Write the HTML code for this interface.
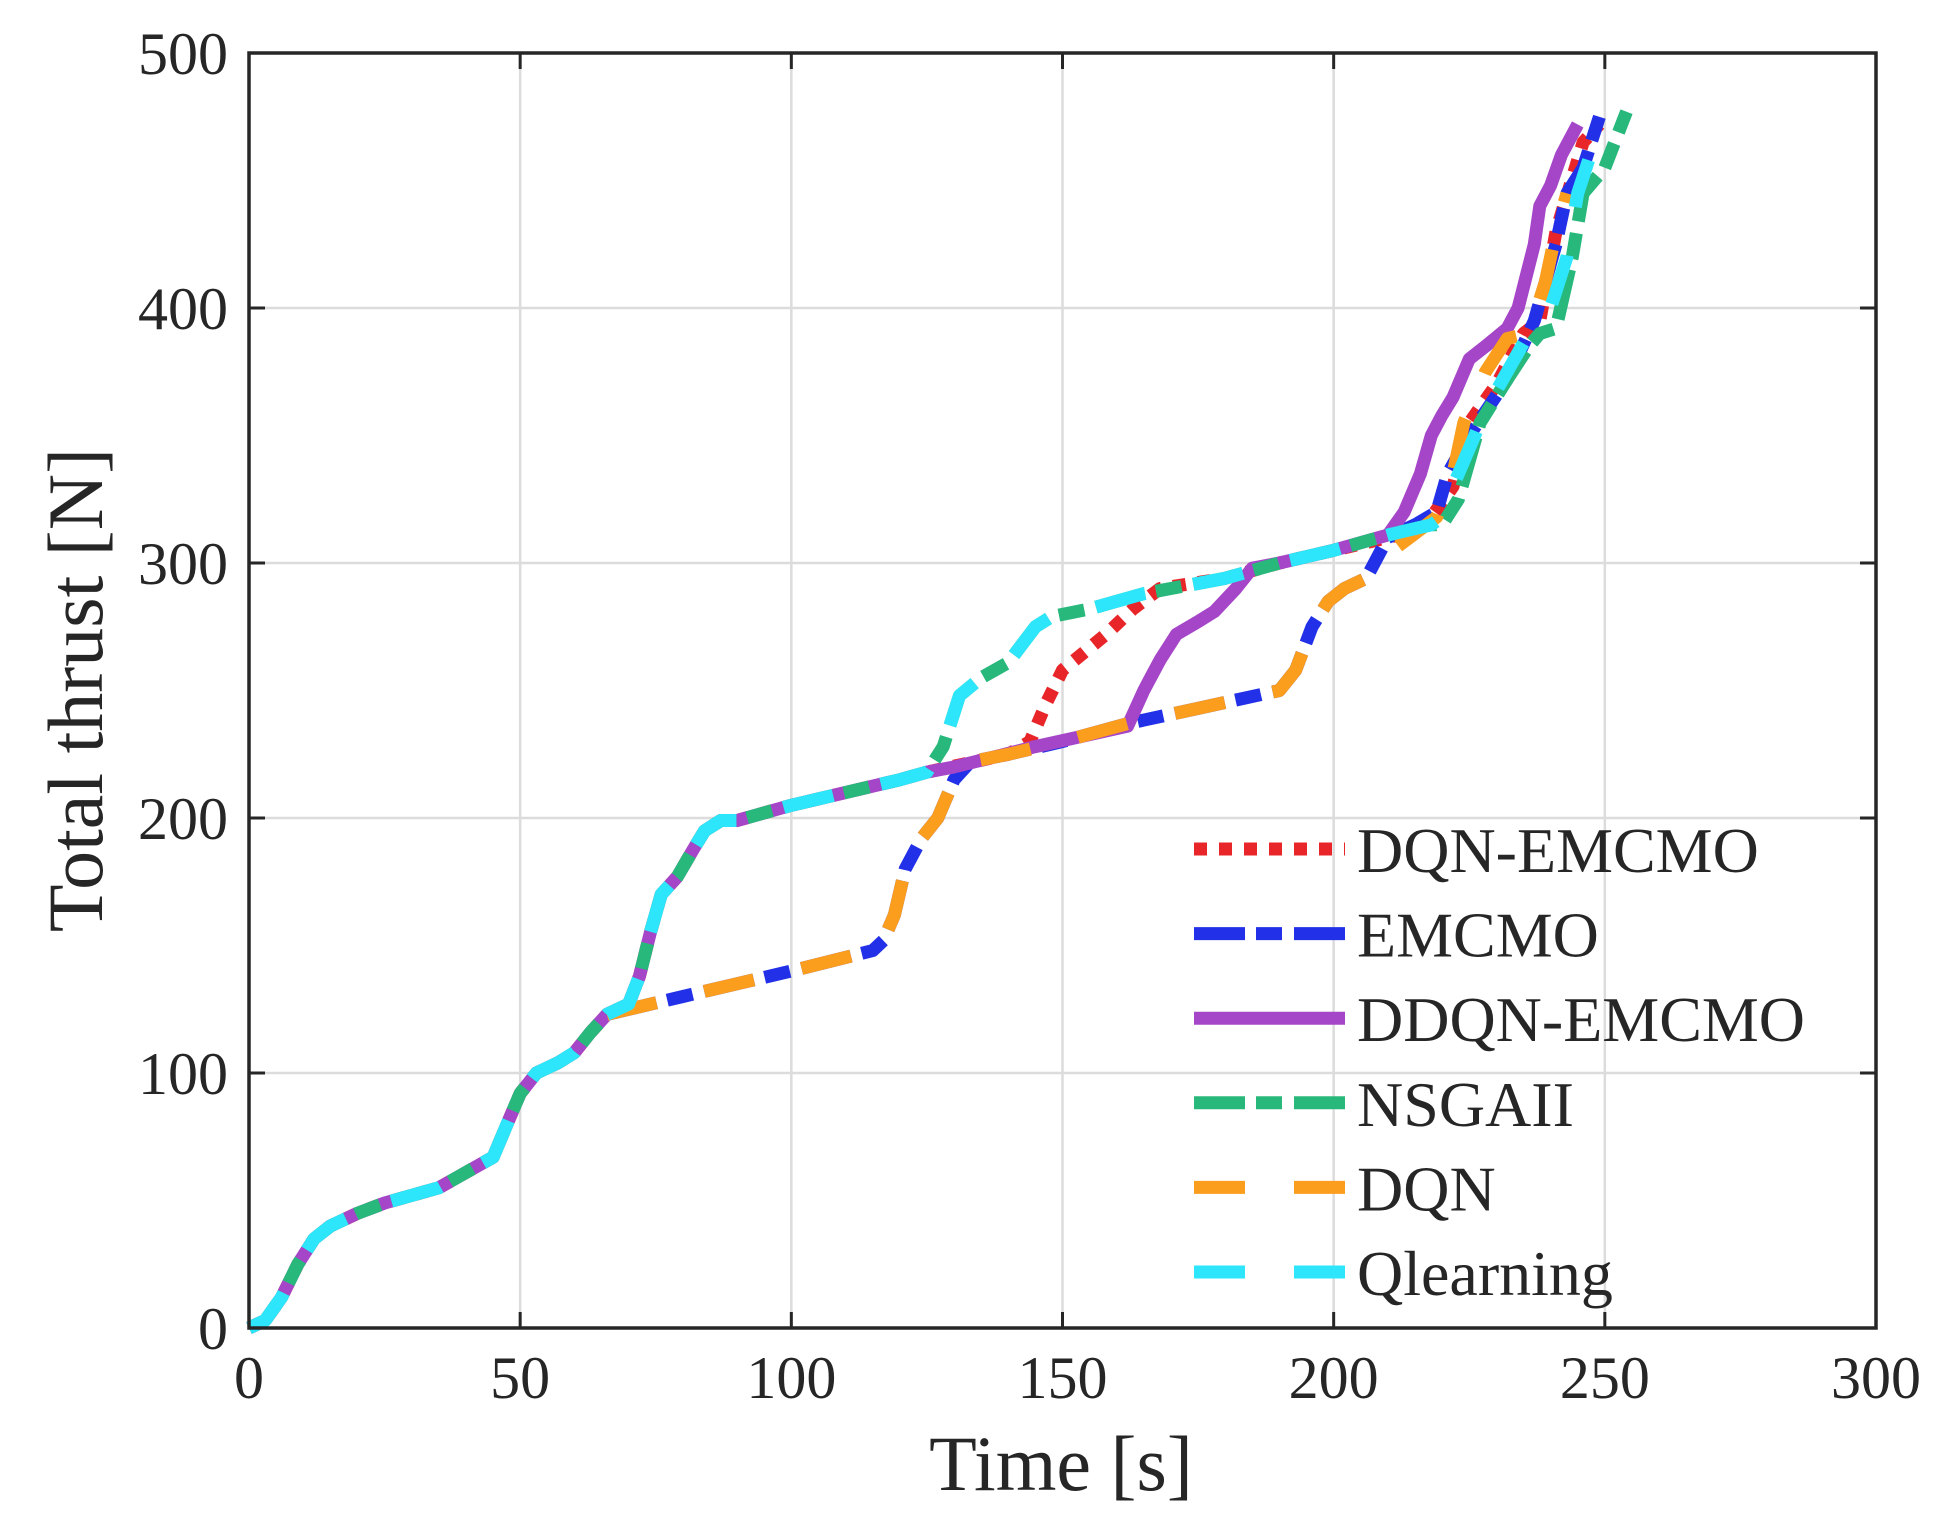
<!DOCTYPE html>
<html><head><meta charset="utf-8"><style>
html,body{margin:0;padding:0;background:#fff;}
svg{display:block;}
text{font-family:"Liberation Serif",serif;fill:#262626;}
</style></head><body>
<svg id="s" width="1942" height="1528" viewBox="0 0 1942 1528" xmlns="http://www.w3.org/2000/svg">
<rect width="1942" height="1528" fill="#fff"/>
<g id="grid" stroke="#dcdcdc" stroke-width="2.5"></g>
<g id="series" fill="none" stroke-width="13" stroke-linejoin="round"></g>
<g id="legend"></g>
<rect x="249" y="53" width="1627" height="1275" fill="none" stroke="#262626" stroke-width="3.5"/>
<g id="ticks" stroke="#262626" stroke-width="3"></g>
<g id="labels" font-size="60"></g>
<text x="1061" y="1490" font-size="78" text-anchor="middle">Time [s]</text>
<text transform="translate(102,690) rotate(-90)" font-size="78" text-anchor="middle">Total thrust [N]</text>
</svg>
<script>
var X0=249,X1=1876,Y0=1328,Y1=53;
function px(t){return X0+t*(X1-X0)/300;}
function py(v){return Y0-v*(Y0-Y1)/500;}
var NS="http://www.w3.org/2000/svg";
function el(tag,attrs,parent,txt){var e=document.createElementNS(NS,tag);for(var k in attrs)e.setAttribute(k,attrs[k]);if(txt!==undefined)e.textContent=txt;document.getElementById(parent).appendChild(e);return e;}
for(var t=50;t<300;t+=50)el('line',{x1:px(t),x2:px(t),y1:Y1,y2:Y0},'grid');
for(var v=100;v<500;v+=100)el('line',{x1:X0,x2:X1,y1:py(v),y2:py(v)},'grid');
for(var t=0;t<=300;t+=50){el('line',{x1:px(t),x2:px(t),y1:Y0,y2:Y0-16},'ticks');el('line',{x1:px(t),x2:px(t),y1:Y1,y2:Y1+16},'ticks');el('text',{x:px(t),y:1398,'text-anchor':'middle'},'labels',String(t));}
for(var v=0;v<=500;v+=100){el('line',{x1:X0,x2:X0+16,y1:py(v),y2:py(v)},'ticks');el('line',{x1:X1,x2:X1-16,y1:py(v),y2:py(v)},'ticks');el('text',{x:228,y:py(v)+21,'text-anchor':'end'},'labels',String(v));}
var common=[[0,0],[3,3],[6,12],[9,25],[12,35],[15,40],[20,45],[25,49],[30,52],[35,55],[40,61],[45,67],[48,82],[50,92],[53,100],[57,104],[60,108],[63,116],[66,123],[70,127]];
var upper=[[72,138],[74,155],[76,170],[79,177],[82,188],[84,195],[87,199],[90,199],[95,202],[100,205],[110,210],[120,215],[125,218]];
var ns_mid=[[128,228],[131,248],[135,255],[140,261],[145,275],[148,279],[155,282],[165,288],[180,294],[190,300],[200,305],[210,311],[218,315]];
var lower=[[66,123],[70,125],[80,130],[100,140],[115,148],[117,152],[119,162],[121,180],[124,192],[127,200],[130,215],[133,222],[140,225],[150,230],[162,237],[175,243],[190,250],[193,258],[196,275],[199,285],[202,290],[206,294]];
var S={
 dqnem:common.concat(upper,[[140,225],[144,230],[147,245],[150,258],[154,265],[158,272],[163,282],[168,290],[180,294],[190,300],[200,305],[212,311],[218,318],[222,330],[225,355],[230,370],[235,390],[238,395],[241,430],[246,465],[249,472]]),
 emcmo:lower.concat([[210,310],[215,315],[219,320],[221,335],[225,350],[232,372],[237,395],[241,425],[243,445],[246,455],[249,475]]),
 ddqn:common.concat(upper,[[130,220],[145,228],[162,236],[165,250],[168,262],[171,272],[175,277],[178,281],[182,290],[185,298],[190,300],[200,305],[210,311],[213,320],[216,335],[218,350],[220,358],[222,365],[225,380],[228,385],[232,392],[234,400],[237,425],[238,440],[240,448],[242,460],[245,472]]),
 nsga:common.concat(upper,ns_mid,[[220,315],[223,325],[227,355],[232,372],[236,385],[238,390],[241,392],[244,420],[246,445],[250,455],[254,477]]),
 dqn:lower.concat([[209,302],[214,310],[219,318],[222,335],[224,355],[228,375],[232,388],[236,390],[239,410],[241,430],[243,445]]),
 ql:common.concat(upper,ns_mid,[[220,318],[222,330],[225,345],[228,360],[232,375],[236,390],[240,400],[243,420],[245,445],[247,458]])
};
var st=[
 ['dqnem','#e8262a','13,12','DQN-EMCMO'],
 ['emcmo','#2230e8','51,11,26,12','EMCMO'],
 ['ddqn','#a545c8','','DDQN-EMCMO'],
 ['nsga','#28b87c','51,11,26,12','NSGAII'],
 ['dqn','#fb9d1d','51,49','DQN'],
 ['ql','#2ee6fb','51,49','Qlearning']
];
st.forEach(function(s,i){
 var d=S[s[0]].map(function(p,j){return (j?'L':'M')+px(p[0]).toFixed(1)+' '+py(p[1]).toFixed(1);}).join(' ');
 var a={d:d,stroke:s[1]};if(s[2])a['stroke-dasharray']=s[2];
 el('path',a,'series');
 var y=849+i*84.6;
 var b={x1:1194,x2:1345,y1:y,y2:y,stroke:s[1],'stroke-width':13};if(s[2])b['stroke-dasharray']=s[2];
 el('line',b,'legend');
 el('text',{x:1357,y:y+23,'font-size':64,fill:'#000'},'legend',s[3]);
});
</script>
</body></html>
